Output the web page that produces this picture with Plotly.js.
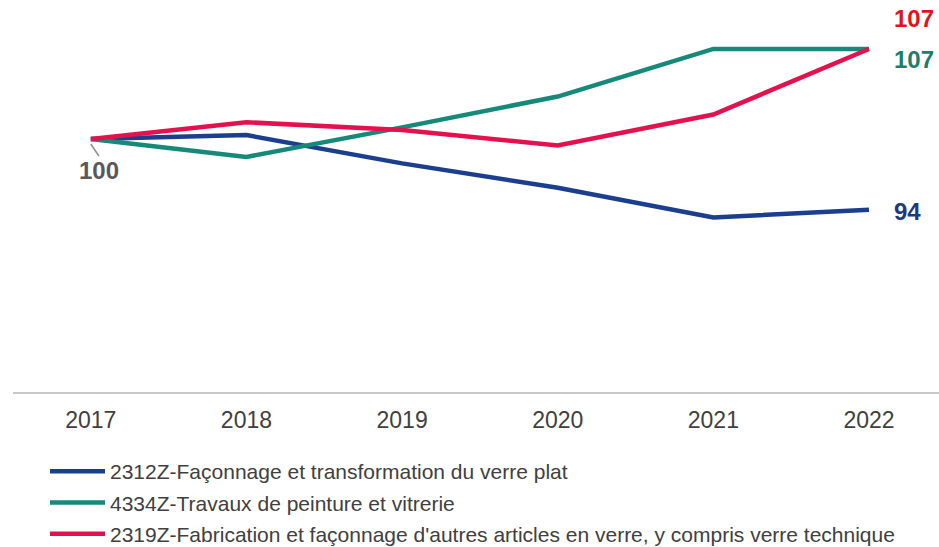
<!DOCTYPE html>
<html><head><meta charset="utf-8">
<script src="https://cdn.plot.ly/plotly-3.0.1.min.js"></script>
<style>body{margin:0;background:#fff}#c{width:939px;height:547px}</style>
</head><body><div id="c"></div>
<script>
const years = ['2017','2018','2019','2020','2021','2022'];
const blueName = '2312Z-Façonnage et transformation du verre plat';
const tealName = '4334Z-Travaux de peinture et vitrerie';
const redName = "2319Z-Fabrication et façonnage d'autres articles en verre, y compris verre technique";
const blueVals = [100, 100.3, 98.1, 96.2, 93.9, 94.5];
const tealVals = [100, 98.6, 100.9, 103.3, 107.0, 107.0];
const redVals  = [100, 101.3, 100.7, 99.5, 101.9, 107.0];
const endLabels = ['94', '107', '107'];
const startLabel = '100';
const blueColor = '#1c3e8e', tealColor = '#16897a', redColor = '#e3124f';
const font = 'Liberation Sans, Arial, sans-serif';

function tr(name, vals, color, g){
  return {x: years, y: vals, name: name, type:'scatter', mode:'lines',
    line:{color:color, width:4.5}, legendgroup:g, hoverinfo:'skip'};
}
const data = [tr(blueName, blueVals, blueColor,'a'), tr(tealName, tealVals, tealColor,'b'), tr(redName, redVals, redColor,'c')];

const last = years.length-1;
const layout = {
  width:939, height:547,
  margin:{l:13, r:0, t:10, b:155, autoexpand:false},
  paper_bgcolor:'#fff', plot_bgcolor:'#fff',
  showlegend:true,
  legend:{orientation:'v', x:45/939, xref:'container', xanchor:'left', y:1-451/547, yref:'container', yanchor:'top',
    traceorder:'grouped', tracegroupgap:1, bgcolor:'rgba(0,0,0,0)',
    font:{family:font, size:21, color:'#404040'}, itemwidth:55},
  xaxis:{type:'category', range:[-0.5, 5.45], showgrid:false, zeroline:false,
    showline:true, linecolor:'#c8c8c8', linewidth:2, ticks:'',
    tickfont:{family:font, size:23, color:'#404040'}, ticklabelstandoff:6, fixedrange:true},
  yaxis:{range:[80.32, 110.03], visible:false, showgrid:false, zeroline:false, fixedrange:true},
  annotations:[
    {x:0, y:blueVals[0], text:'<b>'+startLabel+'</b>', showarrow:true, arrowhead:0, arrowwidth:1.5, arrowcolor:'#909090',
      ax:8, ay:12, font:{family:font, size:24, color:'#595959'}, yanchor:'top', xanchor:'center', borderpad:0, yshift:-5, xshift:0},
    {x:last, y:redVals[last], text:'<b>'+endLabels[2]+'</b>', showarrow:false, xshift:45, yshift:30,
      font:{family:font, size:24, color:'#e3121b'}},
    {x:last, y:tealVals[last], text:'<b>'+endLabels[1]+'</b>', showarrow:false, xshift:45, yshift:-11,
      font:{family:font, size:24, color:'#1a7f6b'}},
    {x:last, y:blueVals[last], text:'<b>'+endLabels[0]+'</b>', showarrow:false, xshift:39, yshift:-2,
      font:{family:font, size:24, color:'#1c3a80'}}
  ]
};
Plotly.newPlot('c', data, layout, {displayModeBar:false, staticPlot:true});
</script></body></html>
